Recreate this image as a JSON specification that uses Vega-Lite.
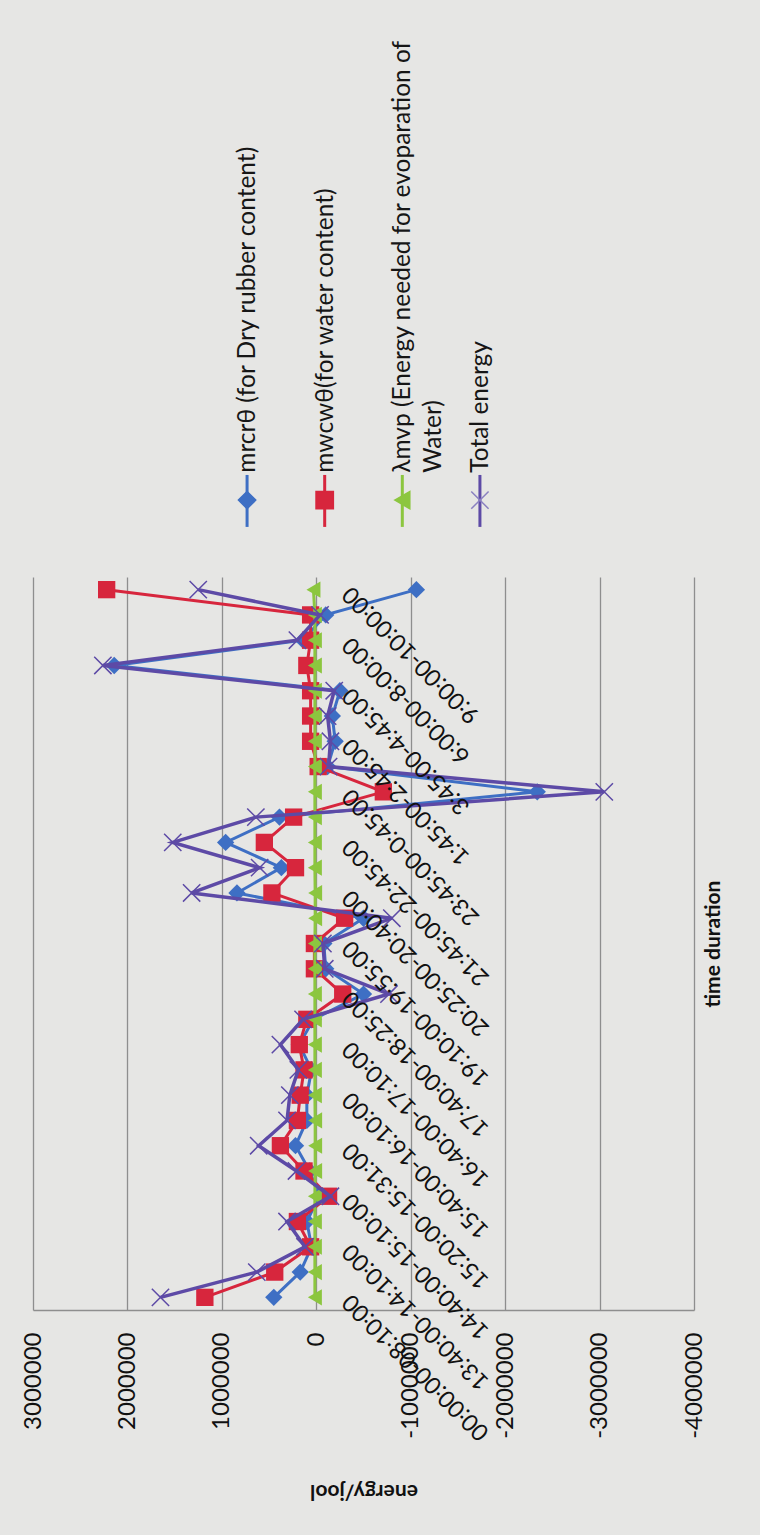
{
  "$schema": "https://vega.github.io/schema/vega-lite/v6.json",
  "background": "#e6e6e4",
  "padding": {"left": 21, "top": 10, "right": 40, "bottom": 40},
  "bounds": "flush",
  "spacing": 20,
  "center": true,
  "config": {"view": {"stroke": null}, "font": "Lato"},
  "datasets": {
    "legend": [
      {"series": "mrcrθ (for Dry rubber content)", "label": "mrcrθ (for Dry rubber content)"},
      {"series": "mwcwθ(for water content)", "label": "mwcwθ(for water content)"},
      {"series": "λmvp (Energy needed for evoparation of Water)", "label": "λmvp (Energy needed for evoparation of\nWater)"},
      {"series": "Total energy", "label": "Total energy"}
    ],
    "energy": [
      {"time": "00:00:00-08:10:00", "series": "mrcrθ (for Dry rubber content)", "energy": 450000},
      {"time": "08:10:00-13:40:00", "series": "mrcrθ (for Dry rubber content)", "energy": 170000},
      {"time": "13:40:00-14:10:00", "series": "mrcrθ (for Dry rubber content)", "energy": 50000},
      {"time": "14:10:00-14:40:00", "series": "mrcrθ (for Dry rubber content)", "energy": 100000},
      {"time": "14:40:00-15:10:00", "series": "mrcrθ (for Dry rubber content)", "energy": -30000},
      {"time": "15:10:00-15:20:00", "series": "mrcrθ (for Dry rubber content)", "energy": 70000},
      {"time": "15:20:00-15:31:00", "series": "mrcrθ (for Dry rubber content)", "energy": 220000},
      {"time": "15:31:00-15:40:00", "series": "mrcrθ (for Dry rubber content)", "energy": 100000},
      {"time": "15:40:00-16:10:00", "series": "mrcrθ (for Dry rubber content)", "energy": 100000},
      {"time": "16:10:00-16:40:00", "series": "mrcrθ (for Dry rubber content)", "energy": 50000},
      {"time": "16:40:00-17:10:00", "series": "mrcrθ (for Dry rubber content)", "energy": 180000},
      {"time": "17:10:00-17:40:00", "series": "mrcrθ (for Dry rubber content)", "energy": 30000},
      {"time": "17:40:00-18:25:00", "series": "mrcrθ (for Dry rubber content)", "energy": -500000},
      {"time": "18:25:00-19:10:00", "series": "mrcrθ (for Dry rubber content)", "energy": -100000},
      {"time": "19:10:00-19:55:00", "series": "mrcrθ (for Dry rubber content)", "energy": -80000},
      {"time": "19:55:00-20:25:00", "series": "mrcrθ (for Dry rubber content)", "energy": -500000},
      {"time": "20:25:00-20:40:00", "series": "mrcrθ (for Dry rubber content)", "energy": 840000},
      {"time": "20:40:00-21:45:00", "series": "mrcrθ (for Dry rubber content)", "energy": 370000},
      {"time": "21:45:00-22:45:00", "series": "mrcrθ (for Dry rubber content)", "energy": 960000},
      {"time": "22:45:00-23:45:00", "series": "mrcrθ (for Dry rubber content)", "energy": 390000},
      {"time": "23:45:00-0:45:00", "series": "mrcrθ (for Dry rubber content)", "energy": -2340000},
      {"time": "0:45:00-1:45:00", "series": "mrcrθ (for Dry rubber content)", "energy": -120000},
      {"time": "1:45:00-2:45:00", "series": "mrcrθ (for Dry rubber content)", "energy": -200000},
      {"time": "2:45:00-3:45:00", "series": "mrcrθ (for Dry rubber content)", "energy": -170000},
      {"time": "3:45:00-4:45:00", "series": "mrcrθ (for Dry rubber content)", "energy": -250000},
      {"time": "4:45:00-6:00:00", "series": "mrcrθ (for Dry rubber content)", "energy": 2140000},
      {"time": "6:00:00-8:00:00", "series": "mrcrθ (for Dry rubber content)", "energy": 140000},
      {"time": "8:00:00-9:00:00", "series": "mrcrθ (for Dry rubber content)", "energy": -100000},
      {"time": "9:00:00-10:00:00", "series": "mrcrθ (for Dry rubber content)", "energy": -1060000},

      {"time": "00:00:00-08:10:00", "series": "mwcwθ(for water content)", "energy": 1180000},
      {"time": "08:10:00-13:40:00", "series": "mwcwθ(for water content)", "energy": 440000},
      {"time": "13:40:00-14:10:00", "series": "mwcwθ(for water content)", "energy": 60000},
      {"time": "14:10:00-14:40:00", "series": "mwcwθ(for water content)", "energy": 200000},
      {"time": "14:40:00-15:10:00", "series": "mwcwθ(for water content)", "energy": -130000},
      {"time": "15:10:00-15:20:00", "series": "mwcwθ(for water content)", "energy": 130000},
      {"time": "15:20:00-15:31:00", "series": "mwcwθ(for water content)", "energy": 380000},
      {"time": "15:31:00-15:40:00", "series": "mwcwθ(for water content)", "energy": 200000},
      {"time": "15:40:00-16:10:00", "series": "mwcwθ(for water content)", "energy": 170000},
      {"time": "16:10:00-16:40:00", "series": "mwcwθ(for water content)", "energy": 130000},
      {"time": "16:40:00-17:10:00", "series": "mwcwθ(for water content)", "energy": 180000},
      {"time": "17:10:00-17:40:00", "series": "mwcwθ(for water content)", "energy": 100000},
      {"time": "17:40:00-18:25:00", "series": "mwcwθ(for water content)", "energy": -280000},
      {"time": "18:25:00-19:10:00", "series": "mwcwθ(for water content)", "energy": 20000},
      {"time": "19:10:00-19:55:00", "series": "mwcwθ(for water content)", "energy": 20000},
      {"time": "19:55:00-20:25:00", "series": "mwcwθ(for water content)", "energy": -300000},
      {"time": "20:25:00-20:40:00", "series": "mwcwθ(for water content)", "energy": 470000},
      {"time": "20:40:00-21:45:00", "series": "mwcwθ(for water content)", "energy": 220000},
      {"time": "21:45:00-22:45:00", "series": "mwcwθ(for water content)", "energy": 550000},
      {"time": "22:45:00-23:45:00", "series": "mwcwθ(for water content)", "energy": 240000},
      {"time": "23:45:00-0:45:00", "series": "mwcwθ(for water content)", "energy": -710000},
      {"time": "0:45:00-1:45:00", "series": "mwcwθ(for water content)", "energy": -20000},
      {"time": "1:45:00-2:45:00", "series": "mwcwθ(for water content)", "energy": 60000},
      {"time": "2:45:00-3:45:00", "series": "mwcwθ(for water content)", "energy": 60000},
      {"time": "3:45:00-4:45:00", "series": "mwcwθ(for water content)", "energy": 60000},
      {"time": "4:45:00-6:00:00", "series": "mwcwθ(for water content)", "energy": 100000},
      {"time": "6:00:00-8:00:00", "series": "mwcwθ(for water content)", "energy": 60000},
      {"time": "8:00:00-9:00:00", "series": "mwcwθ(for water content)", "energy": 60000},
      {"time": "9:00:00-10:00:00", "series": "mwcwθ(for water content)", "energy": 2220000},

      {"time": "00:00:00-08:10:00", "series": "λmvp (Energy needed for evoparation of Water)", "energy": 15000},
      {"time": "08:10:00-13:40:00", "series": "λmvp (Energy needed for evoparation of Water)", "energy": 15000},
      {"time": "13:40:00-14:10:00", "series": "λmvp (Energy needed for evoparation of Water)", "energy": 15000},
      {"time": "14:10:00-14:40:00", "series": "λmvp (Energy needed for evoparation of Water)", "energy": 15000},
      {"time": "14:40:00-15:10:00", "series": "λmvp (Energy needed for evoparation of Water)", "energy": 15000},
      {"time": "15:10:00-15:20:00", "series": "λmvp (Energy needed for evoparation of Water)", "energy": 12000},
      {"time": "15:20:00-15:31:00", "series": "λmvp (Energy needed for evoparation of Water)", "energy": 12000},
      {"time": "15:31:00-15:40:00", "series": "λmvp (Energy needed for evoparation of Water)", "energy": 12000},
      {"time": "15:40:00-16:10:00", "series": "λmvp (Energy needed for evoparation of Water)", "energy": 15000},
      {"time": "16:10:00-16:40:00", "series": "λmvp (Energy needed for evoparation of Water)", "energy": 15000},
      {"time": "16:40:00-17:10:00", "series": "λmvp (Energy needed for evoparation of Water)", "energy": 15000},
      {"time": "17:10:00-17:40:00", "series": "λmvp (Energy needed for evoparation of Water)", "energy": 15000},
      {"time": "17:40:00-18:25:00", "series": "λmvp (Energy needed for evoparation of Water)", "energy": 15000},
      {"time": "18:25:00-19:10:00", "series": "λmvp (Energy needed for evoparation of Water)", "energy": 15000},
      {"time": "19:10:00-19:55:00", "series": "λmvp (Energy needed for evoparation of Water)", "energy": 15000},
      {"time": "19:55:00-20:25:00", "series": "λmvp (Energy needed for evoparation of Water)", "energy": 12000},
      {"time": "20:25:00-20:40:00", "series": "λmvp (Energy needed for evoparation of Water)", "energy": 12000},
      {"time": "20:40:00-21:45:00", "series": "λmvp (Energy needed for evoparation of Water)", "energy": 15000},
      {"time": "21:45:00-22:45:00", "series": "λmvp (Energy needed for evoparation of Water)", "energy": 15000},
      {"time": "22:45:00-23:45:00", "series": "λmvp (Energy needed for evoparation of Water)", "energy": 15000},
      {"time": "23:45:00-0:45:00", "series": "λmvp (Energy needed for evoparation of Water)", "energy": 15000},
      {"time": "0:45:00-1:45:00", "series": "λmvp (Energy needed for evoparation of Water)", "energy": 15000},
      {"time": "1:45:00-2:45:00", "series": "λmvp (Energy needed for evoparation of Water)", "energy": 15000},
      {"time": "2:45:00-3:45:00", "series": "λmvp (Energy needed for evoparation of Water)", "energy": 15000},
      {"time": "3:45:00-4:45:00", "series": "λmvp (Energy needed for evoparation of Water)", "energy": 15000},
      {"time": "4:45:00-6:00:00", "series": "λmvp (Energy needed for evoparation of Water)", "energy": 15000},
      {"time": "6:00:00-8:00:00", "series": "λmvp (Energy needed for evoparation of Water)", "energy": 15000},
      {"time": "8:00:00-9:00:00", "series": "λmvp (Energy needed for evoparation of Water)", "energy": 15000},
      {"time": "9:00:00-10:00:00", "series": "λmvp (Energy needed for evoparation of Water)", "energy": 30000},

      {"time": "00:00:00-08:10:00", "series": "Total energy", "energy": 1650000},
      {"time": "08:10:00-13:40:00", "series": "Total energy", "energy": 630000},
      {"time": "13:40:00-14:10:00", "series": "Total energy", "energy": 120000},
      {"time": "14:10:00-14:40:00", "series": "Total energy", "energy": 310000},
      {"time": "14:40:00-15:10:00", "series": "Total energy", "energy": -150000},
      {"time": "15:10:00-15:20:00", "series": "Total energy", "energy": 210000},
      {"time": "15:20:00-15:31:00", "series": "Total energy", "energy": 610000},
      {"time": "15:31:00-15:40:00", "series": "Total energy", "energy": 310000},
      {"time": "15:40:00-16:10:00", "series": "Total energy", "energy": 280000},
      {"time": "16:10:00-16:40:00", "series": "Total energy", "energy": 190000},
      {"time": "16:40:00-17:10:00", "series": "Total energy", "energy": 380000},
      {"time": "17:10:00-17:40:00", "series": "Total energy", "energy": 140000},
      {"time": "17:40:00-18:25:00", "series": "Total energy", "energy": -770000},
      {"time": "18:25:00-19:10:00", "series": "Total energy", "energy": -90000},
      {"time": "19:10:00-19:55:00", "series": "Total energy", "energy": -70000},
      {"time": "19:55:00-20:25:00", "series": "Total energy", "energy": -800000},
      {"time": "20:25:00-20:40:00", "series": "Total energy", "energy": 1320000},
      {"time": "20:40:00-21:45:00", "series": "Total energy", "energy": 600000},
      {"time": "21:45:00-22:45:00", "series": "Total energy", "energy": 1520000},
      {"time": "22:45:00-23:45:00", "series": "Total energy", "energy": 640000},
      {"time": "23:45:00-0:45:00", "series": "Total energy", "energy": -3050000},
      {"time": "0:45:00-1:45:00", "series": "Total energy", "energy": -130000},
      {"time": "1:45:00-2:45:00", "series": "Total energy", "energy": -150000},
      {"time": "2:45:00-3:45:00", "series": "Total energy", "energy": -120000},
      {"time": "3:45:00-4:45:00", "series": "Total energy", "energy": -190000},
      {"time": "4:45:00-6:00:00", "series": "Total energy", "energy": 2260000},
      {"time": "6:00:00-8:00:00", "series": "Total energy", "energy": 200000},
      {"time": "8:00:00-9:00:00", "series": "Total energy", "energy": -40000},
      {"time": "9:00:00-10:00:00", "series": "Total energy", "energy": 1250000}
    ]
  },
  "vconcat": [
    {
      "width": 326,
      "height": 547,
      "data": {"name": "legend"},
      "encoding": {
        "x": {"field": "series", "type": "nominal", "sort": null, "axis": null,
              "scale": {"type": "point", "padding": 0.6,
                        "domain": ["mrcrθ (for Dry rubber content)", "mwcwθ(for water content)", "λmvp (Energy needed for evoparation of Water)", "Total energy"]}},
        "color": {"field": "series", "type": "nominal", "legend": null,
                  "scale": {"domain": ["mrcrθ (for Dry rubber content)", "mwcwθ(for water content)", "λmvp (Energy needed for evoparation of Water)", "Total energy"],
                            "range": ["#3e6fc4", "#d7263d", "#8cc63f", "#5d4aa6"]}}
      },
      "layer": [
        {
          "mark": {"type": "rule", "strokeWidth": 3},
          "encoding": {
            "y": {"datum": 0.85, "type": "quantitative", "axis": null, "scale": {"domain": [0, 1], "reverse": true}},
            "y2": {"datum": 0.945}
          }
        },
        {
          "mark": {"type": "point", "filled": true, "size": 300, "strokeWidth": 1.5, "opacity": 1},
          "encoding": {
            "y": {"datum": 0.896, "type": "quantitative", "axis": null, "scale": {"domain": [0, 1], "reverse": true}},
            "shape": {"field": "series", "type": "nominal", "legend": null,
                      "scale": {"domain": ["mrcrθ (for Dry rubber content)", "mwcwθ(for water content)", "λmvp (Energy needed for evoparation of Water)", "Total energy"],
                                "range": ["diamond", "square", "triangle-left", "M-1,-1L1,1M-1,1L1,-1"]}},
            "stroke": {"field": "series", "type": "nominal", "legend": null,
                       "scale": {"domain": ["mrcrθ (for Dry rubber content)", "mwcwθ(for water content)", "λmvp (Energy needed for evoparation of Water)", "Total energy"],
                                 "range": ["#3e6fc4", "#d7263d", "#8cc63f", "#8a80c0"]}}
          }
        },
        {
          "mark": {"type": "text", "angle": 270, "align": "left", "baseline": "top", "dy": -11, "fontSize": 24.5, "lineHeight": 31, "lineBreak": "\n", "font": "Lato"},
          "encoding": {
            "y": {"datum": 0.846, "type": "quantitative", "axis": null, "scale": {"domain": [0, 1], "reverse": true}},
            "text": {"field": "label"},
            "color": {"value": "#161616"}
          }
        }
      ]
    },
    {
      "width": 661,
      "height": 733,
      "data": {"name": "energy"},
      "encoding": {
        "x": {
          "field": "energy", "type": "quantitative",
          "scale": {"domain": [-4000000, 3000000], "reverse": true, "nice": false, "zero": false},
          "axis": {
            "values": [-4000000, -3000000, -2000000, -1000000, 0, 1000000, 2000000, 3000000],
            "grid": true, "gridColor": "#8e8e8e", "gridWidth": 1.3,
            "domain": true, "domainColor": "#8e8e8e", "domainWidth": 1.5,
            "ticks": false,
            "labelAngle": 270, "labelAlign": "right", "labelBaseline": "middle",
            "labelPadding": 22, "labelFontSize": 24, "labelFont": "Lato", "labelColor": "#111111",
            "labelFlush": false, "labelOverlap": false, "labelBound": false,
            "labelExpr": "toString(datum.value)",
            "title": "energy/jool", "titleFont": "Lato", "titleFontSize": 21, "titleFontWeight": "bold", "titleColor": "#111111",
            "titleAngle": 180, "titleX": 330.5, "titleY": 180, "titleAlign": "center", "titleBaseline": "middle"
          }
        },
        "y": {
          "field": "time", "type": "ordinal",
          "scale": {"type": "point", "padding": 0.5, "reverse": true,
                    "domain": ["00:00:00-08:10:00", "08:10:00-13:40:00", "13:40:00-14:10:00", "14:10:00-14:40:00", "14:40:00-15:10:00", "15:10:00-15:20:00", "15:20:00-15:31:00", "15:31:00-15:40:00", "15:40:00-16:10:00", "16:10:00-16:40:00", "16:40:00-17:10:00", "17:10:00-17:40:00", "17:40:00-18:25:00", "18:25:00-19:10:00", "19:10:00-19:55:00", "19:55:00-20:25:00", "20:25:00-20:40:00", "20:40:00-21:45:00", "21:45:00-22:45:00", "22:45:00-23:45:00", "23:45:00-0:45:00", "0:45:00-1:45:00", "1:45:00-2:45:00", "2:45:00-3:45:00", "3:45:00-4:45:00", "4:45:00-6:00:00", "6:00:00-8:00:00", "8:00:00-9:00:00", "9:00:00-10:00:00"]},
          "axis": {
            "orient": "right", "offset": -377.7,
            "values": ["00:00:00-08:10:00", "13:40:00-14:10:00", "14:40:00-15:10:00", "15:20:00-15:31:00", "15:40:00-16:10:00", "16:40:00-17:10:00", "17:40:00-18:25:00", "19:10:00-19:55:00", "20:25:00-20:40:00", "21:45:00-22:45:00", "23:45:00-0:45:00", "1:45:00-2:45:00", "3:45:00-4:45:00", "6:00:00-8:00:00", "9:00:00-10:00:00"],
            "grid": false, "domain": false, "ticks": false,
            "labelAngle": 225, "labelAlign": "right", "labelBaseline": "middle",
            "labelPadding": 30, "labelFontSize": 23.5, "labelFont": "Lato", "labelColor": "#111111",
            "labelOverlap": false, "labelBound": false, "labelLimit": 0,
            "title": "time duration", "titleFont": "Lato", "titleFontSize": 21, "titleFontWeight": "bold", "titleColor": "#111111",
            "titleAngle": 270, "titleX": 396.7, "titleY": 366.5, "titleAlign": "center", "titleBaseline": "middle",
            "zindex": 2
          }
        },
        "color": {"field": "series", "type": "nominal", "legend": null,
                  "scale": {"domain": ["mrcrθ (for Dry rubber content)", "mwcwθ(for water content)", "λmvp (Energy needed for evoparation of Water)", "Total energy"],
                            "range": ["#3e6fc4", "#d7263d", "#8cc63f", "#5d4aa6"]}},
        "order": {"value": null}
      },
      "layer": [
        {
          "transform": [{"filter": {"field": "series", "equal": "mrcrθ (for Dry rubber content)"}}],
          "mark": {"type": "line", "strokeWidth": 3, "point": {"shape": "diamond", "size": 300, "filled": true}}
        },
        {
          "transform": [{"filter": {"field": "series", "equal": "mwcwθ(for water content)"}}],
          "mark": {"type": "line", "strokeWidth": 3, "point": {"shape": "square", "size": 300, "filled": true}}
        },
        {
          "transform": [{"filter": {"field": "series", "equal": "λmvp (Energy needed for evoparation of Water)"}}],
          "mark": {"type": "line", "strokeWidth": 3, "point": {"shape": "triangle-left", "size": 260, "filled": true}}
        },
        {
          "transform": [{"filter": {"field": "series", "equal": "Total energy"}}],
          "mark": {"type": "line", "strokeWidth": 3.5, "point": {"shape": "M-1,-1L1,1M-1,1L1,-1", "size": 300, "filled": false, "strokeWidth": 1.5, "color": "#8a80c0"}}
        }
      ]
    }
  ]
}
